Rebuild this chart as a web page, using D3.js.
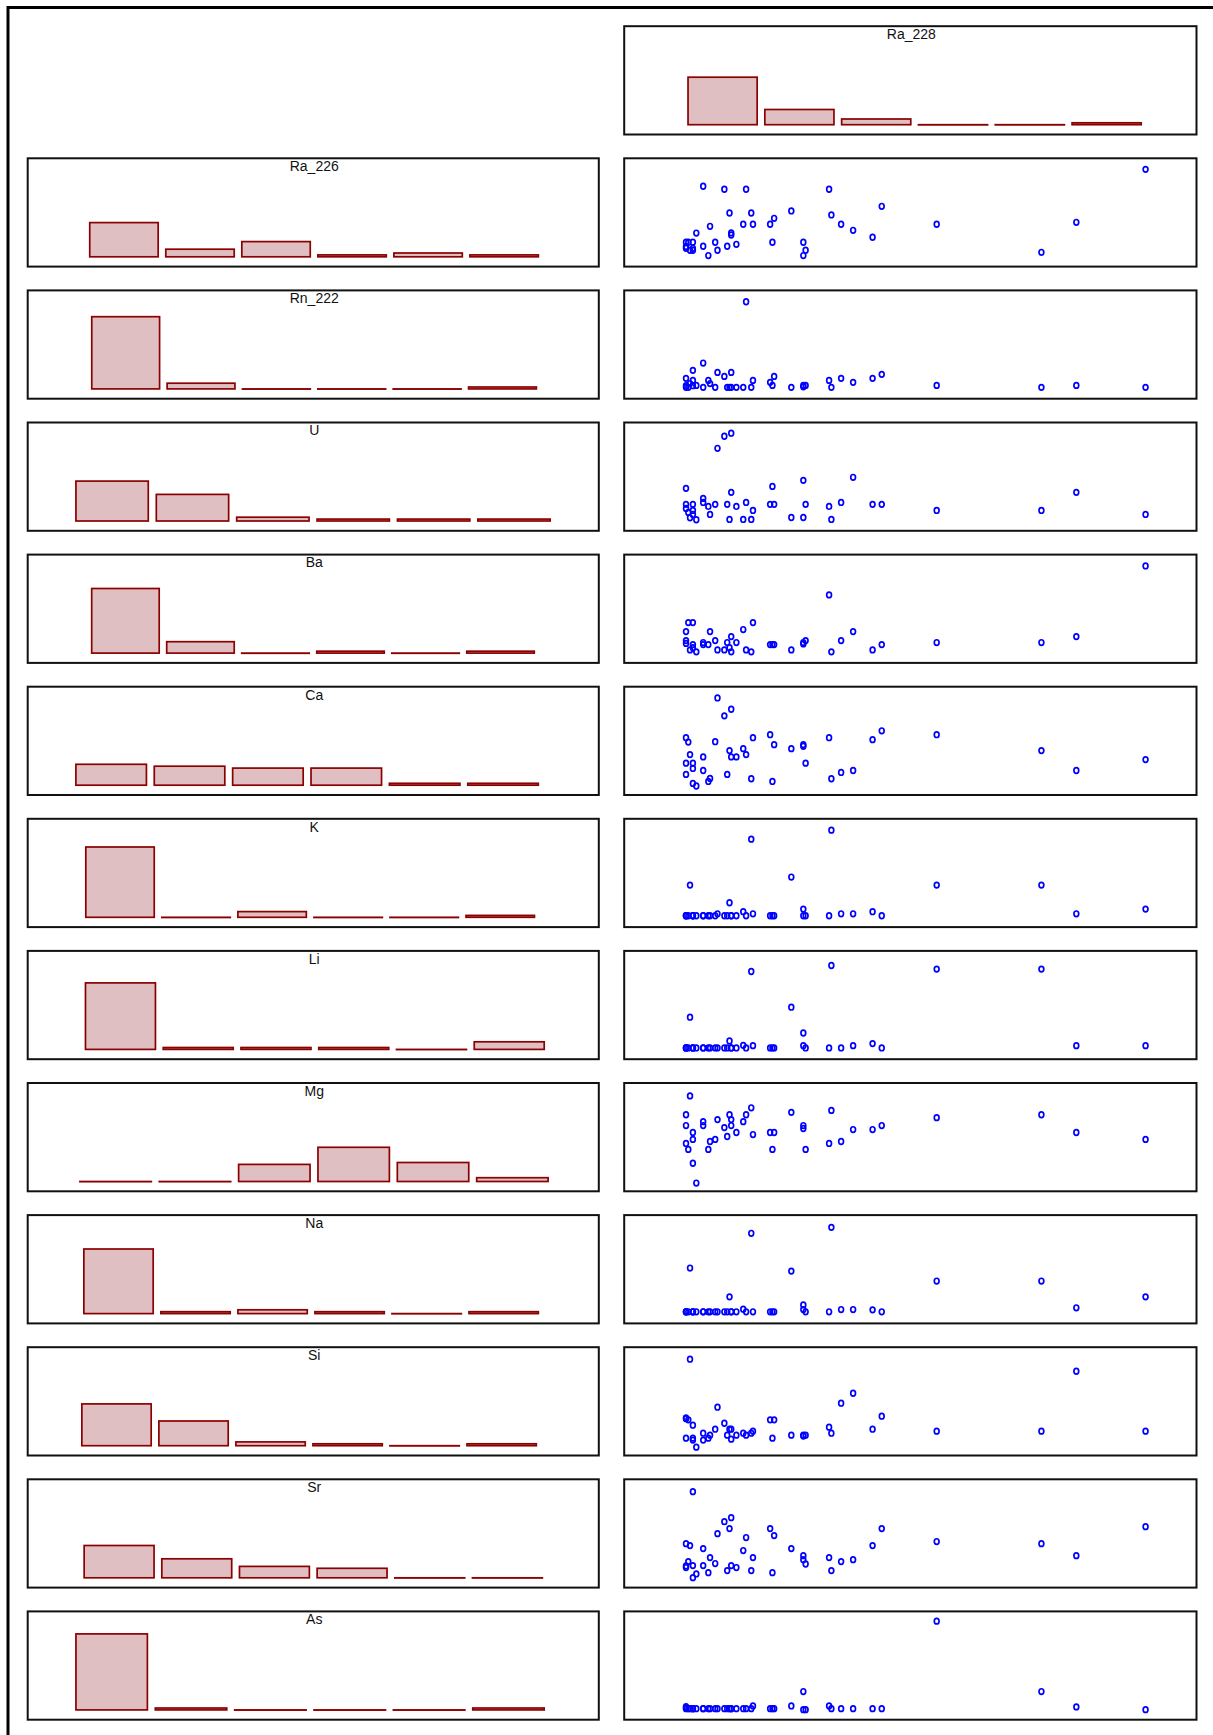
<!DOCTYPE html>
<html>
<head>
<meta charset="utf-8">
<script src="https://cdn.jsdelivr.net/npm/d3@7"></script>
<style>
  body { margin: 0; background: #fff; }
  svg { display: block; }
  text { font-family: "Liberation Sans", Arial, sans-serif; }
</style>
</head>
<body>
<div id="chart"></div>
<script>
// Ra_228 for every sample (x of all the scatter panels)
var ra228 = [1.08,1.08,1.08,1.12,1.15,1.20,1.20,1.20,1.26,1.38,1.38,1.47,1.50,1.59,1.63,1.75,1.80,1.84,1.87,1.87,1.96,
             2.08,2.13,2.22,2.25,2.55,2.59,2.62,2.92,3.13,3.13,3.17,3.58,3.62,3.79,4.00,4.34,4.50,5.46,7.29,7.90,9.11];

// other variables, same sample order (relative scale 0-100)
var ra226 = [22.5,16.9,18.5,22.5,15,22.5,15.1,16.9,31,74.2,18.8,10.2,37.2,22.5,15.1,71.4,18.8,49.5,31.1,29.2,20.6,
             39.1,71.4,49.5,39.1,39.1,22.5,44.6,51.4,22.5,10.2,15.1,71.4,47.7,39.1,33.5,27.1,55.7,39.1,13.2,40.9,89.8];
var rn222 = [18.8,10.5,12,10.5,14,26.2,16.9,12,12.3,32.9,10.5,16.9,14,10.5,24.3,20.6,10.5,10.5,24.3,10.5,10.5,
             10.5,89.5,10.5,16.9,15.1,12.3,20.6,10.5,12.3,11,12.3,16.9,10.5,18.8,15.1,18.8,22.5,12.3,10.5,12.3,10.5];
var uran = [39.2,24.4,20.7,17,12,24.4,18.8,15.1,10.2,29.9,26.2,22.5,15.1,24.4,76.2,87.3,24.4,10.5,90.1,35.5,22.5,
            10.5,26.2,10.5,18.8,24.4,41,24.4,12.3,46.6,12.3,24.4,22.5,10.5,26.2,49.4,24.4,24.4,18.8,18.8,35.5,15.1];
var ba = [28.9,20.6,18,37.2,12,37.2,16.9,14,10.2,18.8,16.9,16.9,28.9,20.6,12,12,18.8,14,24.3,10.2,18.8,
          30.8,12,10.2,37.2,16.9,16.9,16.9,12,18.8,17.5,20.6,62.8,10.2,20.6,28.9,12,16.9,18.8,18.8,24.3,89.5];
var ca = [52.9,29.4,19,48.9,37.3,29.4,24.5,10.7,8.3,35.2,22.6,12.5,15.3,49.2,89.6,73.1,19,41,79.2,35.2,35.2,
          42.8,37.3,15,52.9,55.7,12.5,46.5,42.8,46.5,45,29.4,52.9,15,20.8,22.6,51.1,59.3,55.7,41,22.6,32.7];
var k = [10.5,10.5,10.5,10.5,38.8,10.5,10.5,10.5,10.5,10.5,10.5,10.5,10.5,10.5,12.3,10.5,10.5,22.5,10.5,10.5,10.5,
         14.2,10.5,81.2,12.3,10.5,10.5,10.5,46.2,16.6,10.5,10.5,10.5,89.5,12.3,12.3,14.2,10.5,38.8,38.8,12.3,16.6];
var li = [10.4,10.4,10.4,10.4,38.8,10.4,10.4,10.4,10.4,10.4,10.4,10.4,10.4,10.4,10.4,10.4,10.4,16.8,10.4,10.4,10.4,
          12.8,10.4,81,12.5,10.4,10.4,10.4,48,24.2,12.5,10.4,10.4,86.5,10.4,12.5,14.4,10.4,83.2,83.2,12.5,12.5];
var mg = [70.7,60.7,44.2,38.7,88.1,54.3,47.9,25.9,7.6,64.3,60.7,38.7,46,47.9,66.2,58.8,50.6,70.7,66.2,60.7,54.3,
          64.3,70.7,77.1,52.4,54.3,38.7,54.3,72.9,60.7,58,38.7,44.2,74.7,46,57,57,60.7,68,70.7,54.3,47.9];
var na = [10.7,10.7,10.7,10.7,51.1,10.7,10.7,10.7,10.7,10.7,10.7,10.7,10.7,10.7,10.7,10.7,10.7,24.5,10.7,10.7,10.7,
          13.1,10.7,83.2,10.7,10.7,10.7,10.7,48.3,17.1,12.8,10.7,10.7,88.7,12.8,12.8,12.5,10.7,39.1,39.1,14.4,24.5];
var si = [34.8,16,34,32.9,88.9,28,14.2,16,7.7,20.6,14.2,16,18.8,24.3,44.6,29.8,18.8,24.3,24.3,15.1,18.8,
          20.6,18.8,20.6,22.5,32.9,16,32.9,18.8,18.8,18,18.8,26.2,20.6,48.3,57.5,24.3,36.3,22.5,22.5,77.8,22.5];
var sr = [40.6,18.5,20,24,38.8,88.6,20.3,9.2,12.6,36,20.3,13.8,27.7,22.2,49.8,60.9,15.7,54.5,64.6,20.3,18.5,
          34.2,46.2,15.7,27.7,54.5,13.8,48,36,29.5,25.8,21.8,27.7,15.7,24,25.8,38.8,54.5,42.5,40.6,29.5,56.3];
var as = [12,10.2,11,10.2,10.2,10.2,10.2,10.2,10.2,10.2,10.2,10.2,10.2,10.2,10.2,10.2,10.2,10.2,10.2,10.2,10.2,
          10.2,10.2,10.2,12.7,10.2,10.2,10.2,12.7,26,9.3,9.3,12.7,10.2,10.2,10.2,10.2,10.2,91,26,11.8,9.3];

var scatterNames = ["Ra_226","Rn_222","U","Ba","Ca","K","Li","Mg","Na","Si","Sr","As"];
var scatterValues = [ra226, rn222, uran, ba, ca, k, li, mg, na, si, sr, as];

// histograms: 6 bins each, counts per bin
var histNames = ["Ra_228","Ra_226","Rn_222","U","Ba","Ca","K","Li","Mg","Na","Si","Sr","As"];
var histCounts = [
  [25,8,3,0,0,1],
  [18,4,8,1,2,1],
  [38,3,0,0,0,1],
  [21,14,2,1,1,1],
  [34,6,0,1,0,1],
  [11,10,9,9,1,1],
  [37,0,3,0,0,1],
  [35,1,1,1,0,4],
  [0,0,9,18,10,2],
  [34,1,2,1,0,1],
  [22,13,2,1,0,1],
  [17,10,6,5,0,0],
  [40,1,0,0,0,1]
];
// x axis limits of each histogram panel, in bin units
var histAxisMin = [-0.781,-0.766,-0.800,-0.550,-0.803,-0.565,-0.714,-0.693,-0.608,-0.679,-0.653,-0.677,-0.558];
var histAxisMax = [6.670,6.745,6.778,6.555,6.810,6.722,6.796,6.652,6.589,6.735,6.761,6.677,6.638];

var svgWidth = 1213, svgHeight = 1735;
var top0 = 26.2, rowStep = 132.1, panelH = 108.3;
var leftX = [27.7, 598.8], rightX = [624.2, 1196.5];

var svg = d3.select("#chart").append("svg")
  .attr("width", svgWidth)
  .attr("height", svgHeight);

// outer frame (runs off the page right and bottom)
svg.append("rect")
  .attr("x", 8).attr("y", 7.5)
  .attr("width", 1400).attr("height", 1900)
  .attr("fill", "none").attr("stroke", "#000").attr("stroke-width", 3);

function panelBox(x0, x1, y0){
  svg.append("rect")
    .attr("x", x0).attr("y", y0)
    .attr("width", x1 - x0).attr("height", panelH)
    .attr("fill", "none").attr("stroke", "#111").attr("stroke-width", 2);
}

function drawHist(i, cols, row){
  var y0 = top0 + row * rowStep;
  var bottom = y0 + panelH;
  var x = d3.scaleLinear().domain([histAxisMin[i], histAxisMax[i]]).range(cols);
  var y = d3.scaleLinear().domain([0, 50]).range([bottom - 9.8, bottom - 9.8 - 95]);

  var g = svg.append("g");
  g.selectAll("rect")
    .data(histCounts[i])
    .enter()
    .append("rect")
    .attr("x", function(d, j){ return x(j + 0.05); })
    .attr("width", function(d, j){ return x(j + 0.95) - x(j + 0.05); })
    .attr("y", function(d){ return y(d); })
    .attr("height", function(d){ return Math.max(y(0) - y(d), 0.2); })  // empty bins still show as a line
    .attr("fill", "#dfbfc1")
    .attr("stroke", "#8b0000")
    .attr("stroke-width", 1.7);

  g.append("text")
    .attr("x", (cols[0] + cols[1]) / 2 + 1)
    .attr("y", y0 + 12.8)
    .attr("text-anchor", "middle")
    .attr("font-size", 14)
    .attr("fill", "#111")
    .text(histNames[i]);

  panelBox(cols[0], cols[1], y0);
}

function drawScatter(i, row){
  var y0 = top0 + row * rowStep;
  var x = d3.scaleLinear().domain([0, 10]).range(rightX);
  var y = d3.scaleLinear().domain([0, 100]).range([y0 + panelH, y0]);

  svg.append("g").selectAll("ellipse")
    .data(scatterValues[i])
    .enter()
    .append("ellipse")
    .attr("cx", function(d, j){ return x(ra228[j]); })
    .attr("cy", function(d){ return y(d); })
    .attr("rx", 2.4)
    .attr("ry", 2.8)
    .attr("fill", "none")
    .attr("stroke", "#0000ff")
    .attr("stroke-width", 1.7);

  panelBox(rightX[0], rightX[1], y0);
}

// top row: only the Ra_228 histogram, on the right
drawHist(0, rightX, 0);

for (var r = 1; r < histNames.length; r++) {
  drawHist(r, leftX, r);
  drawScatter(r - 1, r);
}
</script>
</body>
</html>
